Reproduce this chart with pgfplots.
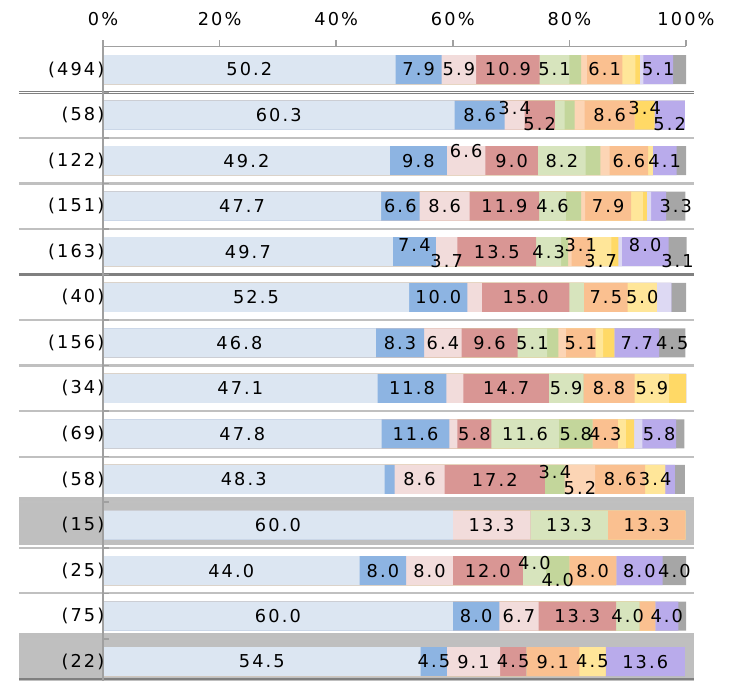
\documentclass[border=0pt]{standalone}
\usepackage{fontspec}
\setmainfont{DejaVu Sans}[LetterSpace=12]
\usepackage{pgfplots}
\pgfplotsset{compat=1.18}
\usepackage{pgfplotstable}

\definecolor{cLB}{HTML}{DCE6F2}
\definecolor{cBL}{HTML}{8DB4E2}
\definecolor{cLP}{HTML}{F2DCDB}
\definecolor{cDP}{HTML}{D99694}
\definecolor{cLG}{HTML}{D7E4BD}
\definecolor{cGR}{HTML}{C3D69B}
\definecolor{cPC}{HTML}{FCD5B5}
\definecolor{cOR}{HTML}{FAC090}
\definecolor{cLY}{HTML}{FFE699}
\definecolor{cYE}{HTML}{FFD966}
\definecolor{cLV}{HTML}{DDD9F3}
\definecolor{cPU}{HTML}{B9ABEB}
\definecolor{cGY}{HTML}{A6A6A6}
\definecolor{axgray}{HTML}{A0A0A0}
\definecolor{bgray}{HTML}{BFBFBF}
\definecolor{sepl}{HTML}{C0C0C0}
\definecolor{sepd}{HTML}{808080}

\newcommand{\lblfont}{\fontsize{13.3}{16}\selectfont}

% values in percent; o.. columns: vertical shift of the value label (in rows)
\pgfplotstableread{
row lb bl lp dp lg gr pc or ly ye lv pu gy olb obl olp odp olg ogr opc oor oly oye olv opu ogy
0 50.2 7.9 5.9 10.9 5.1 2.0 1.0 6.1 2.2 0.8 0.6 5.1 2.2 0 0 0 0 0 0 0 0 0 0 0 0 0
-1 60.3 8.6 3.4 5.2 1.7 1.7 1.7 8.6 0 3.4 0 5.2 0 0 0 0.154 -0.198 0 0 0 0 0 0.154 0 -0.198 0
-2 49.2 9.8 6.6 9.0 8.2 2.5 1.6 6.6 0.8 0 0 4.1 1.6 0 0 0.22 0 0 0 0 0 0 0 0 0 0
-3 47.7 6.6 8.6 11.9 4.6 2.6 0.7 7.9 2.0 0.7 0.7 2.6 3.3 0 0 0 0 0 0 0 0 0 0 0 0 0
-4 49.7 7.4 3.7 13.5 4.3 1.2 0.6 3.1 3.7 1.2 0.6 8.0 3.1 0 0.154 -0.198 0 0 0 0 0.154 -0.198 0 0 0.154 -0.198
-5 52.5 10.0 2.5 15.0 2.5 0 0 7.5 5.0 0 2.5 0 2.5 0 0 0 0 0 0 0 0 0 0 0 0 0
-6 46.8 8.3 6.4 9.6 5.1 1.9 1.3 5.1 1.3 1.9 0 7.7 4.5 0 0 0 0 0 0 0 0 0 0 0 0 0
-7 47.1 11.8 2.9 14.7 5.9 0 0 8.8 5.9 2.9 0 0 0 0 0 0 0 0 0 0 0 0 0 0 0 0
-8 47.8 11.6 1.4 5.8 11.6 5.8 0 4.3 1.4 1.4 1.4 5.8 1.4 0 0 0 0 0 0 0 0 0 0 0 0 0
-9 48.3 1.7 8.6 17.2 0 3.4 5.2 8.6 3.4 0 0 1.7 1.7 0 0 0 0 0 0.154 -0.198 0 0 0 0 0 0
-10 60.0 0 13.3 0 13.3 0 0 13.3 0 0 0 0 0 0 0 0 0 0 0 0 0 0 0 0 0 0
-11 44.0 8.0 8.0 12.0 4.0 4.0 0 8.0 0 0 0 8.0 4.0 0 0 0 0 0.154 -0.198 0 0 0 0 0 0 0
-12 60.0 8.0 6.7 13.3 4.0 0 0 2.7 0 0 0 4.0 1.3 0 0 0 0 0 0 0 0 0 0 0 0 0
-13 54.5 4.5 9.1 4.5 0 0 0 9.1 4.5 0 0 13.6 0 0 0 0 0 0 0 0 0 0 0 0 0 0
}\datatab

% running sums of the segments (right end of each segment)
\newcommand{\sLB}{\thisrow{lb}}
\newcommand{\sBL}{\sLB+\thisrow{bl}}
\newcommand{\sLP}{\sBL+\thisrow{lp}}
\newcommand{\sDP}{\sLP+\thisrow{dp}}
\newcommand{\sLG}{\sDP+\thisrow{lg}}
\newcommand{\sGR}{\sLG+\thisrow{gr}}
\newcommand{\sPC}{\sGR+\thisrow{pc}}
\newcommand{\sOR}{\sPC+\thisrow{or}}
\newcommand{\sLY}{\sOR+\thisrow{ly}}
\newcommand{\sYE}{\sLY+\thisrow{ye}}
\newcommand{\sLV}{\sYE+\thisrow{lv}}
\newcommand{\sPU}{\sLV+\thisrow{pu}}
\newcommand{\sGY}{\sPU+\thisrow{gy}}

\pgfplotsset{base/.style={
  x=4.3725pt, y=34.1625pt,
  xmin=0, xmax=100, ymin=-13.42, ymax=0.505,
  clip=false,
  at={(77.25pt,-34.875pt)}, anchor=north west,
}}

% bar from 0 to the running sum; drawn from the last segment to the first
\newcommand{\seg}[2]{\addplot[xbar, bar width=21.75pt, bar shift=0pt, fill=#2, draw=none]
   table[x expr={#1}, y=row]{\datatab};}
% #1 column, #2 running sum before it
\newcommand{\lab}[2]{\addplot[draw=none, mark=none,
   point meta=explicit symbolic,
   nodes near coords={\ifdim\pgfplotspointmeta pt<3pt \else\pgfplotspointmeta\fi},
   every node near coord/.style={anchor=center, font=\lblfont, text=black, inner sep=0pt}]
   table[x expr={#2+\thisrow{#1}/2}, y expr={\thisrow{row}+\thisrow{o#1}}, meta=#1]{\datatab};}

\begin{document}
\begin{tikzpicture}
% shaded rows and separators
\begin{axis}[base, hide axis]
\fill[bgray] (axis cs:-14.41,-9.385) rectangle (axis cs:101.37,-10.439);
\fill[bgray] (axis cs:-14.41,-12.365) rectangle (axis cs:101.37,-13.42);
\pgfplotsinvokeforeach{1,2,3,5,6,7,8,9,10,11,12}{
  \draw[sepl, line width=1.7pt] (axis cs:-14.41,-#1.5) -- (axis cs:101.37,-#1.5);
}
\draw[sepd, line width=0.8pt] (axis cs:-14.41,-0.474) -- (axis cs:101.37,-0.474);
\draw[sepd, line width=0.8pt] (axis cs:-14.41,-0.526) -- (axis cs:101.37,-0.526);
\draw[sepd, line width=1.7pt] (axis cs:-14.41,-4.5) -- (axis cs:101.37,-4.5);
\draw[sepd, line width=1.5pt] (axis cs:-14.41,-13.38) -- (axis cs:101.37,-13.38);
\end{axis}

% bars
\begin{axis}[base, hide axis]
\seg{\sGY}{cGY}
\seg{\sPU}{cPU}
\seg{\sLV}{cLV}
\seg{\sYE}{cYE}
\seg{\sLY}{cLY}
\seg{\sOR}{cOR}
\seg{\sPC}{cPC}
\seg{\sGR}{cGR}
\seg{\sLG}{cLG}
\seg{\sDP}{cDP}
\seg{\sLP}{cLP}
\seg{\sBL}{cBL}
\seg{\sLB}{cLB}
\end{axis}

% axis lines, ticks and value labels
\begin{axis}[base, hide axis]
\draw[axgray, line width=1.1pt] (axis cs:0,0.505) -- (axis cs:100,0.505);
\draw[axgray, line width=1.1pt] (axis cs:0,0.505) -- (axis cs:0,-13.42);
\pgfplotsinvokeforeach{0,20,40,60,80,100}{
  \draw[axgray, line width=1.1pt] (axis cs:#1,0.505) -- (axis cs:#1,0.64);
}
\pgfplotsinvokeforeach{0,1,2,3,4,5,6,7,8,9,10,11,12}{
  \draw[axgray, line width=1.1pt] (axis cs:0,-#1.5) -- (axis cs:1.1,-#1.5);
}
\lab{lb}{0}
\lab{bl}{\sLB}
\lab{lp}{\sBL}
\lab{dp}{\sLP}
\lab{lg}{\sDP}
\lab{gr}{\sLG}
\lab{pc}{\sGR}
\lab{or}{\sPC}
\lab{ly}{\sOR}
\lab{ye}{\sLY}
\lab{lv}{\sYE}
\lab{pu}{\sLV}
\lab{gy}{\sPU}
\end{axis}

% tick labels
\begin{axis}[base,
  axis line style={draw=none},
  major tick length=0pt, minor tick num=0,
  xtick={0,20,40,60,80,100},
  xticklabels={0\%,20\%,40\%,60\%,80\%,100\%},
  xtick pos=upper, xticklabel pos=upper,
  xtick style={draw=none},
  xticklabel style={yshift=11.75pt},
  ytick={-13,-12,...,0},
  yticklabels={(22),(75),(25),(15),(58),(69),(34),(156),(40),(163),(151),(122),(58),(494)},
  yticklabel pos=left,
  ytick style={draw=none},
  yticklabel style={xshift=4.5pt},
  tick label style={font=\lblfont, text=black},
]
\end{axis}
\pgfresetboundingbox
\path[use as bounding box] (0,0) rectangle (549.75pt,-510.75pt);
\end{tikzpicture}
\end{document}
